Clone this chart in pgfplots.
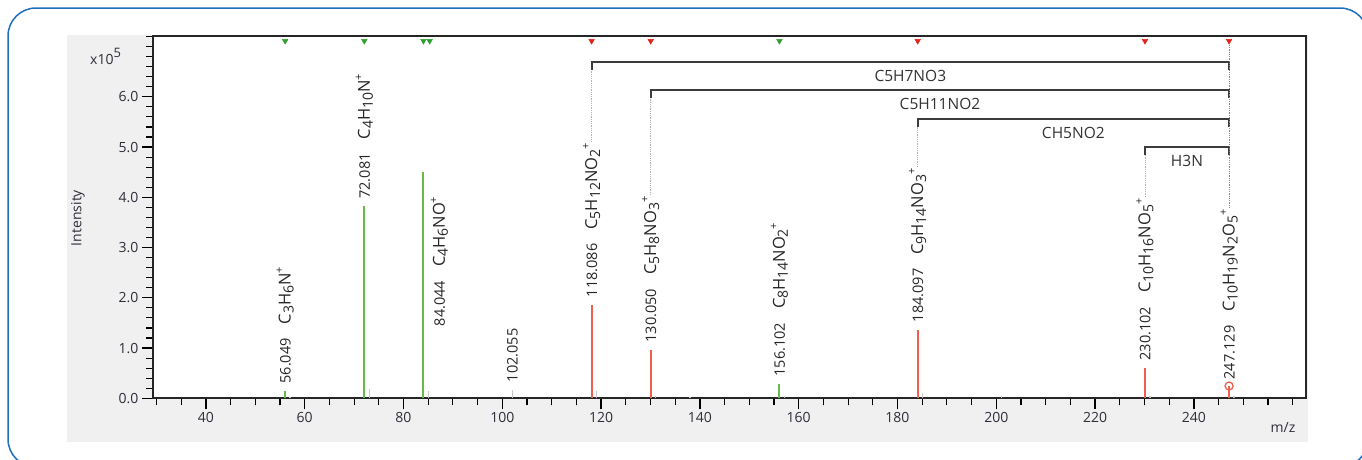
\documentclass[border=0pt]{standalone}
\usepackage{pgfplots}
\pgfplotsset{compat=1.18}
\usepackage{fontspec}
\setmainfont{Open Sans}
\definecolor{pkgreen}{HTML}{66BB44}
\definecolor{pkred}{HTML}{F0604D}
\definecolor{trigreen}{HTML}{2EA02E}
\definecolor{trired}{HTML}{E2231A}
\definecolor{pkgray}{HTML}{C8C8C8}
\definecolor{brk}{HTML}{3C3C3C}
\definecolor{txt}{HTML}{2E2E3A}
\definecolor{panel}{HTML}{F0F0F0}
\definecolor{frameblue}{HTML}{1F6FBF}
\newcommand\sbs[1]{\raisebox{-3pt}{\fontsize{14}{14}\selectfont #1}}
\newcommand\sps{\raisebox{7.5pt}{\fontsize{11}{11}\selectfont +}}
\newcommand\fm[1]{{\fontsize{16.5}{18}\selectfont #1}}
\begin{document}
\begin{tikzpicture}[
  lbl/.style={rotate=90, anchor=west, text=black!85, font=\fontsize{14.5}{16}\selectfont, inner sep=1.5pt},
  blbl/.style={text=black!80, font=\fontsize{15.5}{17}\selectfont, inner sep=0pt},
  bracket/.style={brk, line width=1.8pt},
]
\useasboundingbox (0pt,0pt) rectangle (1362pt,-459pt);
\begin{scope}
\clip (0pt,0pt) rectangle (1362pt,-459pt);
\fill[white] (0pt,0pt) rectangle (1362pt,-459pt);
\draw[frameblue, line width=1.5pt, rounded corners=28pt] (8pt,-8pt) rectangle (1368pt,-467pt);
\end{scope}
\fill[panel] (67pt,-35pt) rectangle (1308pt,-442pt);
\node[text=txt, rotate=90, font=\fontsize{14}{16}\selectfont] at (78pt,-218pt) {Intensity};
\node[text=txt, font=\fontsize{14}{16}\selectfont, anchor=base west, inner sep=0pt] at (90pt,-64pt) {x10\raisebox{7pt}{\fontsize{13}{13}\selectfont 5}};
\node[text=txt, font=\fontsize{14}{16}\selectfont] at (1283pt,-427pt) {m/z};
\begin{axis}[
  at={(153pt,-398.3pt)}, anchor=south west,
  scale only axis, width=1153pt, height=362.3pt,
  xmin=29.3, xmax=262.7, ymin=0, ymax=7.21,
  axis background/.style={fill=white},
  xtick={40,60,...,240}, minor xtick={30,35,...,260},
  ytick={0,1,...,6}, minor ytick={0,0.2,...,7.2},
  xtick pos=left, ytick pos=left, tick align=outside,
  major tick length=11pt, minor tick length=7pt,
  major tick style={black, line width=1.3pt},
  minor tick style={black, line width=1.1pt},
  axis line style={line width=1.8pt, black!85},
  ticklabel style={font=\fontsize{14}{16}\selectfont, text=txt},
  /pgf/number format/assume math mode=true,
  yticklabel style={/pgf/number format/.cd, fixed, fixed zerofill, precision=1},
  xticklabel style={/pgf/number format/fixed},
]
% small isotope / background peaks
\addplot[ycomb, pkgray, line width=1.4pt] coordinates {
 (57.05,0.03) (73.08,0.18) (85.05,0.14) (102.055,0.17) (119.09,0.14)
 (131.05,0.05) (138.0,0.03) (157.1,0.04) (185.1,0.10) (201.0,0.04)
 (231.1,0.05) (248.13,0.05)};
% green fragment peaks
\addplot[ycomb, pkgreen, line width=2pt] coordinates {
 (56.049,0.14) (72.081,3.82) (84.044,4.51) (156.102,0.28)};
% red fragment peaks
\addplot[ycomb, pkred, line width=2pt] coordinates {
 (118.086,1.86) (130.050,0.96) (184.097,1.36) (230.102,0.60) (247.129,0.245)};
\addplot[only marks, mark=o, pkred, mark size=4pt, line width=1.3pt] coordinates {(247.129,0.245)};
% top markers
\addplot[only marks, mark=triangle*, mark size=3.2pt, trigreen, mark options={rotate=180}] coordinates {
 (56.049,7.11) (72.081,7.11) (84.044,7.11) (85.3,7.11) (156.102,7.11)};
\addplot[only marks, mark=triangle*, mark size=3.2pt, trired, mark options={rotate=180}] coordinates {
 (118.086,7.11) (130.050,7.11) (184.097,7.11) (230.102,7.11) (247.129,7.11)};
% neutral loss brackets
\addplot[bracket, no marks] coordinates {(118.086,6.53) (118.086,6.69) (247.129,6.69) (247.129,6.53)};
\addplot[bracket, no marks] coordinates {(130.050,5.97) (130.050,6.13) (247.129,6.13) (247.129,5.97)};
\addplot[bracket, no marks] coordinates {(184.097,5.40) (184.097,5.56) (247.129,5.56) (247.129,5.40)};
\addplot[bracket, no marks] coordinates {(230.102,4.84) (230.102,5.00) (247.129,5.00) (247.129,4.84)};
\node[blbl] at (axis cs:182.6,6.41) {C5H7NO3};
\node[blbl] at (axis cs:188.6,5.85) {C5H11NO2};
\node[blbl] at (axis cs:215.6,5.29) {CH5NO2};
\node[blbl] at (axis cs:238.6,4.73) {H3N};
% peak labels
\node[lbl] (n56) at ([yshift=6pt]axis cs:56.049,0.14) {56.049\hspace{14pt}\fm{C\sbs{3}H\sbs{6}N\sps}};
\node[lbl] (n72) at ([yshift=6pt]axis cs:72.081,3.82) {72.081\hspace{14pt}\fm{C\sbs{4}H\sbs{10}N\sps}};
\node[lbl] (n84) at ([xshift=16pt]axis cs:84.044,1.40) {84.044\hspace{14pt}\fm{C\sbs{4}H\sbs{6}NO\sps}};
\node[lbl] (n102) at ([yshift=6pt]axis cs:102.055,0.17) {102.055};
\node[lbl] (n118) at ([yshift=6pt]axis cs:118.086,1.86) {118.086\hspace{14pt}\fm{C\sbs{5}H\sbs{12}NO\sbs{2}\sps}};
\node[lbl] (n130) at ([yshift=6pt]axis cs:130.050,0.96) {130.050\hspace{14pt}\fm{C\sbs{5}H\sbs{8}NO\sbs{3}\sps}};
\node[lbl] (n156) at ([yshift=6pt]axis cs:156.102,0.28) {156.102\hspace{14pt}\fm{C\sbs{8}H\sbs{14}NO\sbs{2}\sps}};
\node[lbl] (n184) at ([yshift=6pt]axis cs:184.097,1.36) {184.097\hspace{14pt}\fm{C\sbs{9}H\sbs{14}NO\sbs{3}\sps}};
\node[lbl] (n230) at ([yshift=6pt]axis cs:230.102,0.60) {230.102\hspace{14pt}\fm{C\sbs{10}H\sbs{16}NO\sbs{5}\sps}};
\node[lbl] (n247) at ([yshift=5pt]axis cs:247.129,0.245) {247.129\hspace{14pt}\fm{C\sbs{10}H\sbs{19}N\sbs{2}O\sbs{5}\sps}};
\coordinate (b1) at (axis cs:118.086,6.53);
\coordinate (b2) at (axis cs:130.050,5.97);
\coordinate (b3) at (axis cs:184.097,5.40);
\coordinate (b4) at (axis cs:230.102,4.84);
\coordinate (b5) at (axis cs:247.129,7.05);
\end{axis}
\draw[gray!60, densely dotted, line width=0.8pt] (n118.east) -- (n118.east |- b1);
\draw[gray!60, densely dotted, line width=0.8pt] (n130.east) -- (n130.east |- b2);
\draw[gray!60, densely dotted, line width=0.8pt] (n184.east) -- (n184.east |- b3);
\draw[gray!60, densely dotted, line width=0.8pt] (n230.east) -- (n230.east |- b4);
\draw[pkred, densely dotted, line width=0.8pt] (n247.east) -- (n247.east |- b5);
\end{tikzpicture}
\end{document}
